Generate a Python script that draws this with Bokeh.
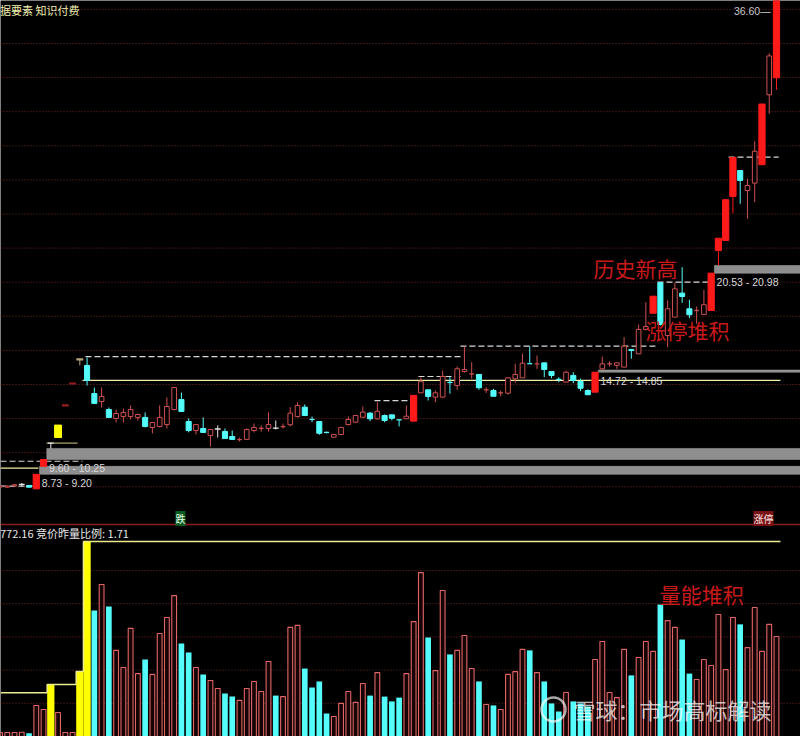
from bokeh.plotting import figure
from bokeh.models import Range1d, ColumnDataSource, Label, Span
from bokeh.embed import file_html
from bokeh.resources import INLINE

# ---------------- data ----------------
opens = [7.98, 7.98, 8.06, 8.14, 8.08, 7.88, 9.20, 10.56, 10.89, 12.78,
         14.06, 15.47, 15.12, 13.47, 13.00, 12.53, 12.01, 12.12, 12.12, 12.07,
         12.07, 11.48, 11.54, 11.65, 12.53, 13.12, 11.83, 11.30, 11.42, 11.01,
         11.39, 11.24, 10.95, 10.77, 10.78, 11.30, 11.43, 11.42, 11.44, 11.53,
         11.64, 12.12, 12.67, 11.95, 11.83, 11.19, 10.91, 11.07, 11.65, 11.79,
         12.08, 12.32, 11.99, 12.18, 12.22, 11.93, 11.99, 11.85, 13.51, 13.69,
         13.26, 13.26, 14.12, 13.94, 14.76, 14.62, 14.59, 13.69, 13.65, 13.51,
         13.49, 14.34, 14.39, 15.22, 15.21, 15.27, 14.76, 14.30, 14.14, 14.53,
         14.18, 13.65, 13.55, 14.92, 15.21, 15.12, 15.02, 16.05, 15.80, 17.23,
         18.18, 19.97, 16.87, 17.95, 19.36, 18.44, 18.34, 18.11, 18.34, 21.86,
         22.45, 25.03, 26.55, 25.38, 25.81, 26.89, 30.99, 31.99]
highs = [8.08, 8.08, 8.17, 8.22, 8.11, 8.73, 9.60, 10.56, 11.62, 12.78,
         14.06, 15.47, 15.58, 13.82, 13.82, 12.65, 12.53, 12.59, 12.77, 12.30,
         12.36, 11.77, 12.77, 13.24, 13.82, 13.53, 12.01, 11.65, 12.07, 11.36,
         11.60, 11.42, 11.30, 10.89, 11.42, 11.71, 11.60, 12.36, 11.89, 11.71,
         12.67, 12.95, 12.83, 12.12, 11.83, 11.24, 11.07, 11.48, 12.12, 12.18,
         12.71, 12.38, 12.96, 12.24, 12.22, 11.93, 12.77, 13.36, 14.41, 13.69,
         13.65, 14.82, 14.43, 15.06, 16.23, 15.31, 14.59, 13.84, 13.75, 13.65,
         14.43, 15.21, 15.80, 16.25, 15.70, 15.27, 14.76, 14.43, 14.82, 14.72,
         14.34, 13.71, 14.72, 15.64, 15.37, 15.27, 16.78, 16.09, 17.52, 18.83,
         19.18, 19.97, 18.93, 19.97, 20.88, 18.97, 18.58, 19.55, 20.53, 22.58,
         24.84, 27.32, 26.55, 26.07, 28.27, 30.45, 33.43, 36.60]
lows = [7.93, 7.93, 8.02, 8.02, 7.96, 7.88, 9.20, 10.25, 10.89, 12.78,
        14.06, 15.12, 13.94, 12.89, 12.65, 12.07, 11.77, 11.77, 11.95, 11.89,
        11.48, 11.13, 11.48, 11.42, 12.48, 12.42, 11.19, 11.07, 11.19, 10.36,
        10.89, 10.83, 10.78, 10.66, 10.78, 11.19, 11.24, 11.24, 11.36, 11.42,
        11.54, 12.07, 12.18, 11.79, 11.05, 11.13, 10.89, 11.07, 11.60, 11.77,
        12.07, 11.85, 11.93, 11.79, 11.89, 11.54, 11.99, 11.85, 13.51, 13.06,
        12.96, 13.22, 13.46, 13.69, 14.70, 14.34, 13.69, 13.51, 13.31, 13.31,
        13.41, 14.10, 14.39, 15.21, 14.92, 14.43, 14.37, 14.14, 14.14, 14.08,
        13.61, 13.40, 13.55, 14.85, 15.06, 14.92, 15.02, 15.51, 15.80, 17.17,
        18.18, 17.46, 16.19, 17.95, 18.79, 17.89, 17.56, 18.11, 18.34, 20.98,
        22.45, 24.05, 24.60, 23.72, 24.69, 26.89, 29.88, 31.29]
closes = [8.04, 8.04, 8.12, 8.14, 7.98, 8.73, 9.60, 10.56, 11.62, 12.78,
          14.06, 15.47, 14.24, 12.89, 13.30, 12.07, 12.30, 12.36, 12.53, 12.24,
          11.54, 11.77, 12.07, 12.71, 13.82, 12.42, 11.30, 11.65, 11.19, 11.36,
          11.39, 10.83, 10.78, 10.78, 11.36, 11.48, 11.44, 11.65, 11.44, 11.54,
          12.32, 12.77, 12.18, 11.94, 11.14, 11.18, 11.07, 11.48, 11.95, 12.18,
          12.38, 11.99, 12.43, 11.89, 12.02, 11.92, 12.14, 13.36, 14.19, 13.30,
          13.51, 14.47, 14.09, 14.92, 14.88, 14.63, 13.81, 13.70, 13.31, 13.52,
          14.39, 14.59, 15.25, 15.21, 15.22, 14.88, 14.53, 14.29, 14.72, 14.24,
          13.78, 13.40, 14.72, 15.21, 15.22, 15.27, 16.25, 15.99, 17.23, 17.40,
          19.18, 17.52, 18.44, 19.61, 19.16, 18.09, 18.35, 18.68, 20.53, 22.58,
          24.84, 27.32, 25.97, 25.67, 27.68, 30.45, 33.27, 36.60]
volumes = [16, 16, 16, 17, 13, 123, 107, 20, 95, 16,
           16, 16, 400, 499, 602, 515, 341, 273, 428, 249,
           305, 246, 408, 471, 558, 368, 333, 273, 246, 222,
           190, 170, 158, 143, 190, 218, 178, 297, 162, 158,
           432, 440, 269, 194, 218, 91, 79, 131, 178, 135,
           210, 162, 253, 158, 139, 154, 249, 455, 649, 392,
           261, 578, 325, 341, 400, 269, 218, 127, 123, 107,
           246, 257, 345, 341, 253, 218, 131, 99, 174, 139,
           131, 119, 305, 376, 174, 154, 345, 242, 313, 376,
           337, 523, 459, 432, 384, 249, 226, 305, 281, 483,
           265, 471, 444, 352, 511, 337, 444, 396]

limit_up_days = [5, 6, 57, 82, 90, 98, 99, 100, 101, 105, 107]
one_price_days = [9, 10]
yellow_days = [8]
tee_days = [11]

# auction (竞价) volume bars and the running level before them
auction_days = [7, 11, 12]
auction_vols = [206, 257, 772.16]
auction_start_level = 173
auction_ratio = 1.71

# unfilled gaps (gray zones)
gap_days = [5, 6, 82, 98]
gap_lows = [8.73, 9.60, 14.72, 20.53]
gap_highs = [9.20, 10.25, 14.85, 20.98]

# white dashed pressure levels (from day, to day, price)
press_from = [0.07, 0.07, 11.78, 51.6, 57.67, 63.45, 90.6, 100.4]
press_to = [4.48, 11.37, 63.45, 56.4, 63.45, 90.33, 98.3, 107.3]
press_price = [8.04, 9.50, 15.64, 13.06, 14.47, 16.25, 20.00, 27.33]

# yellow support levels
sup_from = [0.07, 6.4, 11.37]
sup_to = [5.3, 10.68, 107.55]
sup_price = [9.09, 10.56, 14.24]

price_grid = list(range(8, 37, 2))
vol_grid_step = 131.5

# ---------------- figure ----------------
X0, X1 = 0.069, 110.31
p = figure(width=800, height=736, x_range=Range1d(X0, X1), y_range=Range1d(-6.645, 36.522),
           output_backend="svg", toolbar_location=None,
           x_axis_location=None, y_axis_location=None, min_border=0,
           background_fill_color="black", border_fill_color="black",
           outline_line_color=None)
p.extra_y_ranges = {"vol": Range1d(0, 2914.56)}
p.grid.visible = False

GRID = "#7a2626"
# price grid
p.segment(x0=[X0] * len(price_grid), x1=[X1] * len(price_grid), y0=price_grid, y1=price_grid,
          line_color=GRID, line_dash="1 2", line_width=1)
# volume grid
vg = [vol_grid_step * k for k in range(1, 6)]
p.segment(x0=[X0] * 5, x1=[X1] * 5, y0=vg, y1=vg, line_color=GRID, line_dash="1 2",
          line_width=1, y_range_name="vol")

# gap zones
p.quad(left=[d + 0.45 for d in gap_days], right=[X1] * len(gap_days), bottom=gap_lows,
       top=gap_highs, fill_color="#8e8e8e", line_color="#a8a8a8", line_width=0.5)

# pressure dashed levels
p.segment(x0=press_from, x1=press_to, y0=press_price, y1=press_price,
          line_color="#d8d8d8", line_dash="6 3", line_width=1.2)
# yellow support levels
sup_colors = ["#f0f0a0", "#aaa272", "#f0f0a8"]
p.segment(x0=sup_from, x1=sup_to, y0=sup_price, y1=sup_price, line_color=sup_colors, line_width=1.2)

# ---------------- candles ----------------
styles = {
    "hollow": ("black", "#cd5050", 0.64),
    "solid": ("#ff1a1a", "#ff1a1a", 0.86),
    "cyan": ("#54fcfc", "#54fcfc", 0.70),
    "white": ("#e6e6e6", "#e6e6e6", 0.80),
    "flat": ("#961e1e", "#961e1e", 0.95),
    "yellow": ("#ffff00", "#ffff00", 0.95),
    "tee": ("#b4aa78", "#b4aa78", 0.95),
}
n = len(opens)
cat = []
for i in range(n):
    o, c = opens[i], closes[i]
    if i in limit_up_days:
        cat.append("solid")
    elif i in one_price_days:
        cat.append("flat")
    elif i in yellow_days:
        cat.append("yellow")
    elif i in tee_days:
        cat.append("tee")
    elif c > o:
        cat.append("hollow")
    elif c < o:
        cat.append("cyan")
    else:
        cat.append("white")

# wicks
p.segment(x0=list(range(n)), x1=list(range(n)), y0=lows, y1=highs,
          line_color=[styles[k][1] for k in cat], line_width=1)

for k, (fill, line, w) in styles.items():
    idx = [i for i in range(n) if cat[i] == k]
    if not idx:
        continue
    big = [i for i in idx if abs(closes[i] - opens[i]) >= 0.03]
    flat = [i for i in idx if abs(closes[i] - opens[i]) < 0.03]
    if big:
        src = ColumnDataSource(dict(x=big, top=[max(opens[i], closes[i]) for i in big],
                                    bottom=[min(opens[i], closes[i]) for i in big]))
        p.vbar(x="x", top="top", bottom="bottom", width=w, source=src,
               fill_color=fill, line_color=line, line_width=1)
    if flat:
        p.segment(x0=[i - w / 2 for i in flat], x1=[i + w / 2 for i in flat],
                  y0=[opens[i] for i in flat], y1=[opens[i] for i in flat],
                  line_color=line, line_width=2.2 if k in ("flat", "tee") else 1.3)

# ---------------- volume ----------------
vol_up = []
for i in range(n):
    if closes[i] > opens[i]:
        vol_up.append(True)
    elif closes[i] < opens[i]:
        vol_up.append(False)
    else:
        vol_up.append(closes[i] >= (closes[i - 1] if i else closes[i]))
up_i = [i for i in range(n) if vol_up[i]]
dn_i = [i for i in range(n) if not vol_up[i]]
p.vbar(x=up_i, top=[volumes[i] for i in up_i], bottom=0, width=0.66, fill_color="#160404",
       line_color="#e06666", line_width=1.1, y_range_name="vol")
p.vbar(x=dn_i, top=[volumes[i] for i in dn_i], bottom=0, width=0.78, fill_color="#54fcfc",
       line_color=None, y_range_name="vol")
p.vbar(x=auction_days, top=auction_vols, bottom=0, width=1.0, fill_color="#ffff00",
       line_color=None, y_range_name="vol")
# auction step line
sx, sy = [X0], [auction_start_level]
lvl = auction_start_level
for d, v in zip(auction_days, auction_vols):
    lvl = max(lvl, v)
    sx += [d - 0.5, d - 0.5]
    sy += [sy[-1], lvl]
sx.append(107.55)
sy.append(lvl)
p.line(sx, sy, line_color="#ecec8c", line_width=1.5, y_range_name="vol")

# separator between panels
p.add_layout(Span(location=839.5, dimension="width", y_range_name="vol",
                  line_color="#8e1c1c", line_width=1.5))

# ---------------- texts ----------------
def lab(**kw):
    p.add_layout(Label(**kw))

lab(x=0.0, y=36.46, text="据要素 知识付费", text_font="Noto Sans CJK SC", text_font_size="11px",
    text_color="#f0f0b0", text_baseline="top")
lab(x=106.2, y=35.90, text=f"{highs[-1]:.2f}—", text_font="Liberation Sans", text_font_size="10.5px",
    text_color="#c8c8c8", text_align="right", text_baseline="alphabetic")
for d, lo, hi in zip(gap_days, gap_lows, gap_highs):
    lab(x=d + 0.75, y=lo - 0.15, text=f"{lo:.2f} - {hi:.2f}", text_font="Liberation Sans",
        text_font_size="10.5px", text_color="#d8d8d8", text_baseline="top")
lab(x=81.78, y=20.86, text="历史新高", text_font="Noto Sans CJK SC", text_font_size="21px",
    text_color="#c81a1a", text_baseline="middle")
lab(x=88.95, y=17.17, text="涨停堆积", text_font="Noto Sans CJK SC", text_font_size="21px",
    text_color="#c81a1a", text_baseline="middle")
lab(x=90.9, y=566, y_range_name="vol", text="量能堆积", text_font="Noto Sans CJK SC",
    text_font_size="21px", text_color="#c81a1a", text_baseline="middle")
lab(x=24.87, y=6.14, text="跌", text_font="Noto Sans CJK SC", text_font_size="10px",
    text_color="#e8ffe8", text_align="center", text_baseline="middle",
    background_fill_color="#0c5c22")
lab(x=105.2, y=6.14, text="涨停", text_font="Noto Sans CJK SC", text_font_size="10px",
    text_color="#ffe8e8", text_align="center", text_baseline="middle",
    background_fill_color="#7a1212")
lab(x=0.0, y=806, y_range_name="vol", text=f"{auction_vols[-1]:.2f} 竞价昨量比例: {auction_ratio:.2f}",
    text_font="Noto Sans CJK SC", text_font_size="11px", text_color="#e8e8e8",
    text_baseline="middle")
# watermark
p.scatter(x=[76.27], y=[107], size=24, marker="circle", fill_color=None, line_color="white",
          line_alpha=0.65, line_width=2.5, y_range_name="vol")
lab(x=79.03, y=107, y_range_name="vol", text="雪球：市场高标解读", text_font="Noto Sans CJK SC",
    text_font_size="22px", text_color="white", text_alpha=0.72, text_baseline="middle")

open("out.html", "w").write(file_html(p, INLINE))
